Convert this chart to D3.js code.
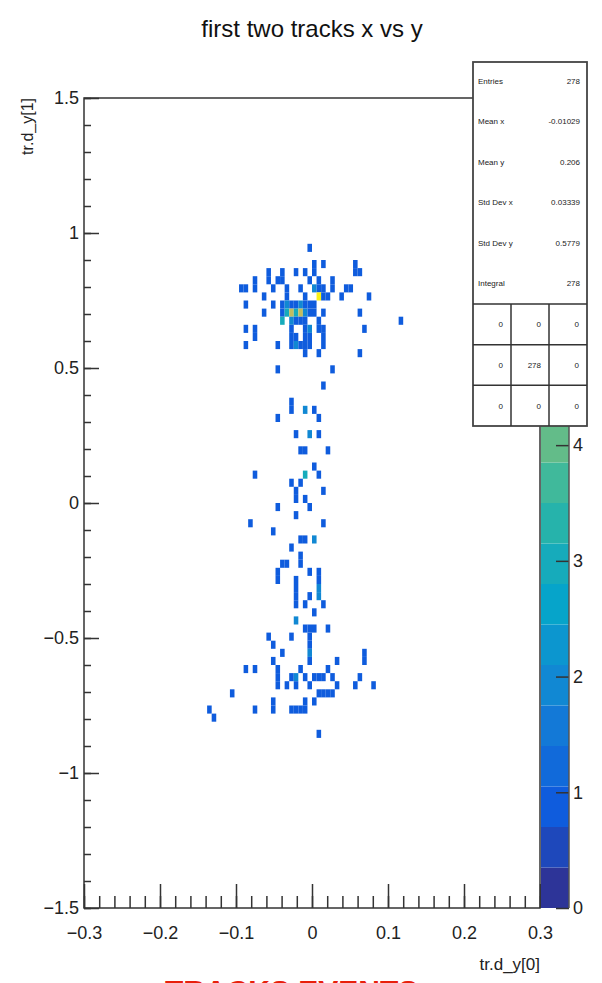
<!DOCTYPE html>
<html>
<head>
<meta charset="utf-8">
<script src="https://cdn.jsdelivr.net/npm/d3@7"></script>
<style>
  body { margin: 0; background: #fff; }
  svg text { font-family: "Liberation Sans", Arial, sans-serif; }
</style>
</head>
<body>
<div id="figure"></div>
<script>
// histogram cells [x bin centre, y bin centre, entries]
const upperCells = [
  [-0.003,0.945,1],
  [-0.057,0.855,1],[-0.057,0.825,1],[-0.039,0.855,1],[-0.039,0.825,1],
  [-0.021,0.855,1],[-0.009,0.855,1],[0.003,0.885,1],[0.003,0.855,1],[0.015,0.885,1],
  [0.057,0.885,1],[0.057,0.855,1],[0.063,0.855,1],
  [-0.093,0.795,1],[-0.087,0.795,1],[-0.075,0.825,1],[-0.075,0.795,1],[-0.051,0.795,1],
  [-0.063,0.765,1],[-0.087,0.735,1],[-0.051,0.735,1],[-0.063,0.705,1],
  [-0.087,0.645,1],[-0.075,0.645,1],[-0.075,0.615,1],[-0.087,0.585,1],[-0.045,0.585,1],
  [0.039,0.765,1],[0.045,0.795,1],[0.051,0.795,1],[0.075,0.765,1],[0.063,0.705,1],
  [0.069,0.645,1],[0.117,0.675,1],[0.063,0.555,1],[0.027,0.825,1],[0.027,0.795,1]
];
const coreCells = [
  [-0.045,0.825,1],[-0.003,0.825,1],[0.009,0.825,1],
  [-0.033,0.795,1],[-0.015,0.795,1],[0.003,0.795,2],[0.009,0.795,1],[0.015,0.795,1],
  [-0.033,0.765,1],[-0.009,0.765,1],[0.009,0.765,7],[0.015,0.765,1],[0.021,0.765,1],
  [-0.039,0.735,1],[-0.033,0.735,2],[-0.027,0.735,1],[-0.021,0.735,1],[-0.015,0.735,2],
  [-0.009,0.735,1],[-0.003,0.735,1],[0.003,0.735,1],
  [-0.039,0.705,1],[-0.033,0.705,3],[-0.027,0.705,5],[-0.021,0.705,3],[-0.015,0.705,5],
  [-0.009,0.705,2],[-0.003,0.705,1],[0.003,0.705,1],[0.015,0.705,1],
  [-0.039,0.675,3],[-0.027,0.675,2],[-0.021,0.675,1],[-0.015,0.675,1],[-0.009,0.675,1],[0.009,0.675,1],
  [-0.027,0.645,1],[-0.009,0.645,1],[-0.003,0.645,2],[0.009,0.645,1],[0.015,0.645,1],
  [-0.027,0.615,1],[-0.021,0.615,1],[-0.009,0.615,1],[-0.003,0.615,1],[0.015,0.615,1],
  [-0.027,0.585,1],[-0.021,0.585,2],[-0.015,0.585,1],[-0.009,0.585,1],[-0.003,0.585,1],[0.015,0.585,1],
  [-0.009,0.555,1],[0.009,0.555,1]
];
const middleCells = [
  [-0.045,0.495,1],[0.027,0.495,1],[0.015,0.435,1],[-0.027,0.375,1],[-0.027,0.345,1],
  [-0.045,0.315,1],[-0.009,0.345,2],[0.003,0.345,1],[0.009,0.315,1],
  [-0.021,0.255,1],[-0.003,0.255,2],[0.009,0.255,1],
  [-0.015,0.195,1],[-0.009,0.195,1],[0.021,0.195,1],[0.003,0.135,1],
  [-0.009,0.105,3],[0.009,0.105,1],[-0.075,0.105,1],
  [-0.027,0.075,1],[-0.015,0.075,1],[-0.021,0.045,1],[-0.021,0.015,1],[-0.009,0.015,1],[0.015,0.045,1],
  [-0.045,-0.015,1],[-0.003,-0.015,1],[-0.021,-0.045,1],[-0.081,-0.075,1],[0.015,-0.075,1],
  [-0.051,-0.105,1],[-0.015,-0.135,1],[-0.009,-0.135,1],[0.003,-0.135,2],
  [-0.027,-0.165,1],[-0.015,-0.195,1],[-0.039,-0.225,1],[-0.033,-0.225,1],[-0.015,-0.225,1],
  [-0.045,-0.255,1],[-0.045,-0.285,1],[-0.003,-0.255,1],[0.009,-0.255,1],
  [-0.021,-0.285,1],[-0.021,-0.315,1],[0.009,-0.285,1],[0.009,-0.315,2],[0.009,-0.345,2],
  [-0.021,-0.345,1],[-0.021,-0.375,1],[-0.003,-0.345,1],[-0.009,-0.375,1],[0.015,-0.375,1],
  [0.003,-0.405,1]
];
const lowerCells = [
  [-0.021,-0.435,2],
  [-0.009,-0.465,1],[-0.003,-0.465,1],[0.003,-0.465,1],[0.021,-0.465,1],
  [-0.057,-0.495,1],[-0.027,-0.495,1],[-0.003,-0.495,1],
  [-0.051,-0.525,1],[-0.003,-0.525,1],
  [-0.039,-0.555,1],[-0.003,-0.555,2],[0.069,-0.555,1],
  [0.069,-0.585,1],[-0.051,-0.585,1],[-0.003,-0.585,1],[0.033,-0.585,1],
  [-0.087,-0.615,1],[-0.075,-0.615,1],[-0.045,-0.615,1],[-0.015,-0.615,1],[0.021,-0.615,1],
  [-0.045,-0.645,1],[-0.027,-0.645,1],[-0.021,-0.645,2],[-0.009,-0.645,1],[0.003,-0.645,1],
  [0.009,-0.645,1],[0.015,-0.645,1],[0.027,-0.645,1],[0.063,-0.645,1],
  [-0.045,-0.675,1],[-0.033,-0.675,1],[-0.021,-0.675,1],[-0.003,-0.675,1],[0.033,-0.675,1],
  [0.057,-0.675,1],[0.081,-0.675,1],
  [-0.105,-0.705,1],[0.009,-0.705,1],[0.015,-0.705,1],[0.021,-0.705,1],[0.027,-0.705,1],
  [-0.051,-0.735,1],[-0.009,-0.735,1],[0.003,-0.735,1],
  [-0.135,-0.765,1],[-0.075,-0.765,1],[-0.051,-0.765,1],[-0.027,-0.765,1],[-0.021,-0.765,1],
  [-0.015,-0.765,1],[-0.009,-0.765,1],
  [-0.129,-0.795,1],
  [0.009,-0.855,1]
];

const binW = 0.006, binH = 0.03;
const zMax = 7, nLevels = 20;

const statLabels = ["Entries", "Mean x", "Mean y", "Std Dev x", "Std Dev y", "Integral"];
const statValues = ["278", "-0.01029", "0.206", "0.03339", "0.5779", "278"];
const overflowGrid = [["0","0","0"],["0","278","0"],["0","0","0"]];

const xTicks = [-0.3, -0.2, -0.1, 0, 0.1, 0.2, 0.3];
const yTicks = [-1.5, -1, -0.5, 0, 0.5, 1, 1.5];
// palette labels that are not hidden behind the stats box
const zTicks = [0, 1, 2, 3, 4];

// ROOT kBird palette
const birdStops = [0, 0.125, 0.25, 0.375, 0.5, 0.625, 0.75, 0.875, 1];
const birdR = [0.2082,0.0592,0.0780,0.0232,0.1802,0.5301,0.8186,0.9956,0.9764];
const birdG = [0.1664,0.3599,0.5041,0.6419,0.7178,0.7492,0.7328,0.7862,0.9832];
const birdB = [0.5293,0.8684,0.8385,0.7914,0.6425,0.4662,0.3499,0.1968,0.0539];
const bird = d3.scaleLinear().domain(birdStops)
  .range(birdStops.map((s, i) => d3.rgb(birdR[i]*255, birdG[i]*255, birdB[i]*255)));

function levelColor(lv) { return bird((Math.min(lv, nLevels - 1) + 0.5) / nLevels); }
function cellColor(n) { return levelColor(Math.floor(n / (zMax / nLevels))); }

const W = 602, H = 983;
const frame = {left: 84, right: 540, top: 98, bottom: 908};

const svg = d3.select("#figure").append("svg")
  .attr("width", W).attr("height", H);

const x = d3.scaleLinear().domain([-0.3, 0.3]).range([frame.left, frame.right]);
const y = d3.scaleLinear().domain([-1.5, 1.5]).range([frame.bottom, frame.top]);
const z = d3.scaleLinear().domain([0, zMax]).range([frame.bottom, frame.top]);

// cells
const cells = upperCells.concat(coreCells, middleCells, lowerCells);
svg.append("g").selectAll("rect")
  .data(cells)
  .join("rect")
  .attr("x", d => x(d[0] - binW / 2))
  .attr("y", d => y(d[1] + binH / 2))
  .attr("width", d => x(d[0] + binW / 2) - x(d[0] - binW / 2))
  .attr("height", d => y(d[1] - binH / 2) - y(d[1] + binH / 2))
  .attr("fill", d => cellColor(d[2]));

// frame
svg.append("rect")
  .attr("x", frame.left).attr("y", frame.top)
  .attr("width", frame.right - frame.left).attr("height", frame.bottom - frame.top)
  .attr("fill", "none").attr("stroke", "#333").attr("stroke-width", 1.5);

const axisColor = "#333";
function styleAxis(g) {
  g.select(".domain").remove();
  g.selectAll("line").attr("stroke", axisColor).attr("stroke-width", 1.5);
  g.selectAll("text").attr("fill", "#222").attr("font-size", 18)
    .attr("font-family", "'Liberation Sans', Arial, sans-serif");
}

// x axis
svg.append("g").attr("transform", `translate(0,${frame.bottom})`)
  .call(d3.axisBottom(x).tickValues(d3.range(-0.3, 0.3001, 0.02)).tickSize(-12).tickFormat(""))
  .call(styleAxis);
svg.append("g").attr("transform", `translate(0,${frame.bottom})`)
  .call(d3.axisBottom(x).tickValues(xTicks).tickSize(-24).tickPadding(18).tickFormat(d3.format("")))
  .call(styleAxis);

// y axis
svg.append("g").attr("transform", `translate(${frame.left},0)`)
  .call(d3.axisLeft(y).tickValues(d3.range(-1.5, 1.5001, 0.1)).tickSize(-7).tickFormat(""))
  .call(styleAxis);
svg.append("g").attr("transform", `translate(${frame.left},0)`)
  .call(d3.axisLeft(y).tickValues(yTicks).tickSize(-15).tickPadding(5).tickFormat(d3.format("")))
  .call(styleAxis)
  .selectAll("text").attr("x", -5);

// colour bar
const cbX = 541, cbW = 28;
svg.append("g").selectAll("rect")
  .data(d3.range(nLevels))
  .join("rect")
  .attr("x", cbX)
  .attr("y", i => z((i + 1) * zMax / nLevels))
  .attr("width", cbW)
  .attr("height", i => z(i * zMax / nLevels) - z((i + 1) * zMax / nLevels))
  .attr("fill", i => levelColor(i));
svg.append("g").attr("transform", `translate(${cbX + cbW},0)`)
  .call(d3.axisRight(z).tickValues(zTicks).tickSize(-13).tickPadding(4).tickFormat(d3.format("d")))
  .call(styleAxis);
svg.append("line")
  .attr("x1", cbX + cbW).attr("x2", cbX + cbW)
  .attr("y1", frame.top).attr("y2", frame.bottom)
  .attr("stroke", "#555").attr("stroke-width", 1.5);

// stats box
const sb = {x: 473, y: 62, w: 114, h: 364};
const stats = svg.append("g");
stats.append("rect")
  .attr("x", sb.x).attr("y", sb.y).attr("width", sb.w).attr("height", sb.h)
  .attr("fill", "#fff").attr("stroke", "#444").attr("stroke-width", 1.8);
const rowY = d3.scaleLinear().domain([0, 5]).range([84, 286]);
stats.selectAll("text.lab").data(statLabels).join("text")
  .attr("class", "lab")
  .attr("x", sb.x + 5).attr("y", (d, i) => rowY(i))
  .attr("font-size", 8).attr("fill", "#222")
  .text(d => d);
stats.selectAll("text.val").data(statValues).join("text")
  .attr("class", "val")
  .attr("x", sb.x + sb.w - 7).attr("y", (d, i) => rowY(i))
  .attr("text-anchor", "end")
  .attr("font-size", 8).attr("fill", "#222")
  .text(d => d);

const gridTop = 304, gridRow = (sb.y + sb.h - gridTop) / 3;
const gridCols = [sb.x, 511, 549, sb.x + sb.w];
[0, 1, 2].forEach(r => {
  stats.append("line")
    .attr("x1", sb.x).attr("x2", sb.x + sb.w)
    .attr("y1", gridTop + r * gridRow).attr("y2", gridTop + r * gridRow)
    .attr("stroke", "#333").attr("stroke-width", 1.5);
});
[1, 2].forEach(c => {
  stats.append("line")
    .attr("x1", gridCols[c]).attr("x2", gridCols[c])
    .attr("y1", gridTop).attr("y2", sb.y + sb.h)
    .attr("stroke", "#333").attr("stroke-width", 1.5);
});
overflowGrid.forEach((row, r) => {
  row.forEach((v, c) => {
    stats.append("text")
      .attr("x", gridCols[c + 1] - 8)
      .attr("y", gridTop + (r + 0.5) * gridRow + 3)
      .attr("text-anchor", "end")
      .attr("font-size", 8).attr("fill", "#222")
      .text(v);
  });
});

// titles
svg.append("text")
  .attr("x", 312).attr("y", 37)
  .attr("text-anchor", "middle")
  .attr("font-size", 24).attr("fill", "#111")
  .text("first two tracks x vs y");
svg.append("text")
  .attr("x", frame.right).attr("y", 970)
  .attr("text-anchor", "end")
  .attr("font-size", 17).attr("fill", "#222")
  .text("tr.d_y[0]");
svg.append("text")
  .attr("transform", `translate(33,${frame.top}) rotate(-90)`)
  .attr("text-anchor", "end")
  .attr("font-size", 16).attr("fill", "#222")
  .text("tr.d_y[1]");

// page heading cut off at the bottom
svg.append("text")
  .attr("x", 165).attr("y", 1001)
  .attr("font-size", 30).attr("font-weight", "bold").attr("fill", "#e8200c")
  .text("TRACKS EVENTS");
</script>
</body>
</html>
